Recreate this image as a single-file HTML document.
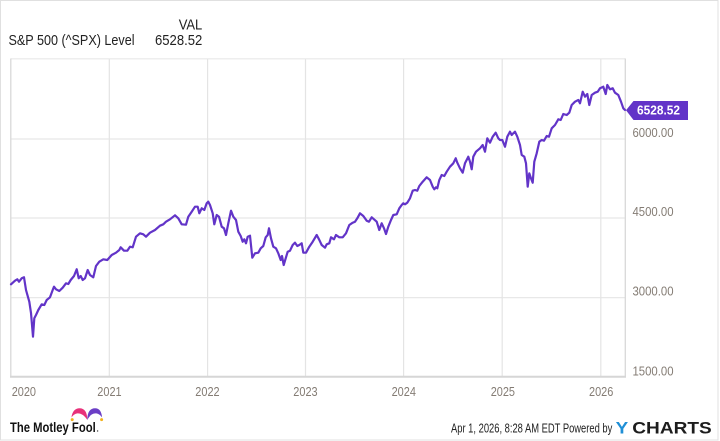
<!DOCTYPE html>
<html>
<head>
<meta charset="utf-8">
<style>
  html,body{margin:0;padding:0;background:#fff;}
  svg{display:block;}
  text{font-family:"Liberation Sans",Arial,sans-serif;}
</style>
</head>
<body>
<svg width="720" height="441" viewBox="0 0 720 441" xmlns="http://www.w3.org/2000/svg">
  <rect x="0" y="0" width="720" height="441" fill="#fff"/>
  <!-- outer border -->
  <rect x="0.5" y="0.5" width="717.5" height="439.5" fill="none" stroke="#e0e0e0" stroke-width="1"/>

  <!-- header -->
  <text x="178.7" y="29.3" font-size="15" fill="#222" textLength="23.6" lengthAdjust="spacingAndGlyphs">VAL</text>
  <text x="8.5" y="45" font-size="15" fill="#222" textLength="126" lengthAdjust="spacingAndGlyphs">S&amp;P 500 (^SPX) Level</text>
  <text x="155" y="45" font-size="15" fill="#222" textLength="47.3" lengthAdjust="spacingAndGlyphs">6528.52</text>

  <!-- grid: horizontal -->
  <g stroke="#e8e8e8" stroke-width="1.2">
    <line x1="11" y1="58.8" x2="625" y2="58.8"/>
    <line x1="11" y1="139" x2="625" y2="139"/>
    <line x1="11" y1="218" x2="625" y2="218"/>
    <line x1="11" y1="297.6" x2="625" y2="297.6"/>
  </g>
  <!-- grid: vertical -->
  <g stroke="#e4e4e4" stroke-width="1.2">
    <line x1="109.3" y1="59" x2="109.3" y2="376"/>
    <line x1="207.6" y1="59" x2="207.6" y2="376"/>
    <line x1="305.5" y1="59" x2="305.5" y2="376"/>
    <line x1="403.6" y1="59" x2="403.6" y2="376"/>
    <line x1="502.2" y1="59" x2="502.2" y2="376"/>
    <line x1="600.8" y1="59" x2="600.8" y2="376"/>
  </g>
  <!-- plot frame -->
  <line x1="10.8" y1="58.5" x2="10.8" y2="377" stroke="#d8d8d8" stroke-width="1.3"/>
  <line x1="625.3" y1="58.5" x2="625.3" y2="377" stroke="#d8d8d8" stroke-width="1.3"/>
  <line x1="10" y1="376.8" x2="626" y2="376.8" stroke="#d6d6d6" stroke-width="2"/>

  <!-- series -->
  <polyline fill="none" stroke="#6234c8" stroke-width="2.2" stroke-linejoin="round" stroke-linecap="round" points="
11,284.3 15,280.7 17.3,279.3 19,281.7 21.7,278.3 24,277.3 26,290 29.3,301.7 31,313 33,336.7 34.3,318.3 36,315 38.3,310 41.7,304.3 44.3,305 46.7,300 50,297.3 52.7,290 54,286.7 56,289.3 59.3,291 62.7,287.7 66,283.3 68.3,284 70.7,280 74,276 76.7,269.3 78.7,278.3 80.7,276 82.7,280 85,278.3 87.7,270 90,275 93.3,277.3 96,266 99.3,261.7 103.3,259.3 107.3,260 111.7,255 116,252.7 119.3,250 120.7,247.3 124,250.7 127.3,250.7 130,246.7 132.7,247.3 136,236.7 140,233.3 143.3,234.3 146,236.7 150,232.7 155,230 160,225.7 163.3,224.3 166,221.7 170,219.3 175,215.3 178.3,218.3 181.7,224.3 186,224.7 188.3,216.7 191.7,211.7 195,206.7 197.7,206.7 199.3,213.3 201.7,208.3 204.3,210 206.7,203.3 208.3,201.7 210,205
212.7,213.3 214.3,224.3 216.7,215 219,216.7 221.7,226.7 224,228.3 226,235 228.3,223.3 231,210.7 233.3,216.7 236,220 238.3,231.7 240.7,236 242.7,241.7 244.3,239.3 246,243.3 247.7,236.7 250,235.7 252.3,257.7 255,253.3 258.3,252.7 260.7,248.3 263.3,246 265.7,237.3 267.7,235 269,228.3 271,238.3 273.3,246.7 276,248.3 278.3,253.3 280.7,260 282,256 283.7,265 285.7,258.3 287.7,251.7 290,250.7 292.7,245 295,242.7 297.3,246 299.3,245 301.7,243.3 303.3,252.7 306,252.7 309.3,246.7 312.7,241.7 316.7,235 319,239.3 321.7,245 325,247.7 326.7,244.3 329.3,243.3 331,237.3 334,239.3 336,235 339.3,237.3 342.7,237.3 346,233.3 349.3,225 352.7,222.7 355,221.7 357.3,218.3 360,213.3 363.3,216 366.7,220.7 369,221.7 371.7,217.3 374,219.3 376.7,221.7 379.3,230 381.7,223.3 384,228.3 386,234 388.3,226.7 391,220 393.3,215 396.7,214.3 399.3,208.3 401.7,205 403.3,203.3 405,204.3 407.3,202.7
410,198.3 412.7,190.7 415,190 417.3,190.7 419.3,186 422.7,181.7 426.7,177.3 430,180 432.7,186.7 434.3,189.3 436,187.3 437.3,188.3 439.3,180 441.7,175 444.3,176 446.7,171.7 450,166.7 453.3,163.3 455.7,158.3 457.3,162.7 460,168.3 462.7,172.7 465,163.3 468.3,156.7 470,161.7 471.7,169.3 473.3,156.7 476,151.7 480,148.3 482.7,145 485,151.7 487.3,138.3 490,142.7 492.7,136.7 495.7,132.7 498.3,138.3 500,140 502.3,140 505,146.7 507.3,136.7 510,131.7 511.7,135 513.3,133.3 515,131.7 517.3,136.7 520,145 521.7,155 524.3,156.7 526,163.3 527.7,186.7 529.3,173.3 531,178.3 532.7,182.7 534.3,161.7 536.7,153.3 539.3,141.7 541.7,140 544,140.7 546.7,136 549,136.7 551.7,128.3 555,125 558.3,119.3 560.7,120 563.3,114 566.7,115 569.3,112.7 571.7,105 575,101.7 578.3,100 580,103.3 582.7,91.7 585,96.7 587.3,94 589.3,105 591.7,95 595,92.7 597.7,91.7 600,88.3 603.3,86.7 605.7,94 607.3,85 610,89.3 612.7,88.3 615,92.7 618.3,95 621,101.7 623.3,108.3 625,110"/>

  <!-- value tag -->
  <polygon points="626,110.3 633.5,101 688,101 688,120 633.5,120" fill="#6234c8"/>
  <text x="637" y="114.6" font-size="12.5" font-weight="bold" fill="#fff" textLength="43" lengthAdjust="spacingAndGlyphs">6528.52</text>

  <!-- y axis labels -->
  <g font-size="12.5" fill="#847c74">
    <text x="632.5" y="136.8" textLength="41" lengthAdjust="spacingAndGlyphs">6000.00</text>
    <text x="632.5" y="216" textLength="41" lengthAdjust="spacingAndGlyphs">4500.00</text>
    <text x="632.5" y="295.5" textLength="41" lengthAdjust="spacingAndGlyphs">3000.00</text>
    <text x="632.5" y="375.3" textLength="41" lengthAdjust="spacingAndGlyphs">1500.00</text>
  </g>

  <!-- x axis labels -->
  <g font-size="13" fill="#847c74">
    <text x="11.7" y="396" textLength="24.3" lengthAdjust="spacingAndGlyphs">2020</text>
    <text x="97.3" y="396" textLength="24.3" lengthAdjust="spacingAndGlyphs">2021</text>
    <text x="195.3" y="396" textLength="24.3" lengthAdjust="spacingAndGlyphs">2022</text>
    <text x="293.3" y="396" textLength="24.3" lengthAdjust="spacingAndGlyphs">2023</text>
    <text x="391.6" y="396" textLength="24.3" lengthAdjust="spacingAndGlyphs">2024</text>
    <text x="490.7" y="396" textLength="24.3" lengthAdjust="spacingAndGlyphs">2025</text>
    <text x="589" y="396" textLength="24.3" lengthAdjust="spacingAndGlyphs">2026</text>
  </g>

  <!-- Motley Fool logo -->
  <path d="M87.3,420 C87.3,412 84.5,408.2 79.5,408.2 C75.2,408.2 72,411.5 71.5,417.5 C74,413.8 77,412.8 80,413.6 C83.2,414.6 85.5,417 87.3,420 Z" fill="#e8317a"/>
  <path d="M87.3,420 C87.3,412 90.1,408.2 95.1,408.2 C99.4,408.2 101.6,411.5 102.1,417.5 C99.6,413.8 96.6,412.8 93.6,413.6 C90.4,414.6 89.1,417 87.3,420 Z" fill="#6b3ec6"/>
  <circle cx="72.2" cy="419.6" r="1.5" fill="#f2b21c"/>
  <circle cx="101.6" cy="419.6" r="1.5" fill="#f2b21c"/>
  <text x="10" y="432" font-size="13.5" font-weight="bold" fill="#111" textLength="85.7" lengthAdjust="spacingAndGlyphs">The Motley Fool</text>
  <circle cx="97.6" cy="431" r="0.7" fill="#444"/>

  <!-- footer -->
  <text x="451" y="432.5" font-size="12.5" fill="#222" textLength="161.3" lengthAdjust="spacingAndGlyphs">Apr 1, 2026, 8:28 AM EDT Powered by</text>
  <text x="615.7" y="433.4" font-size="17" font-weight="bold" fill="#1f8fd6" textLength="12.6" lengthAdjust="spacingAndGlyphs">Y</text>
  <text x="632.3" y="433.4" font-size="17" font-weight="bold" fill="#1d1d1d" textLength="79.4" lengthAdjust="spacingAndGlyphs">CHARTS</text>
</svg>
</body>
</html>
